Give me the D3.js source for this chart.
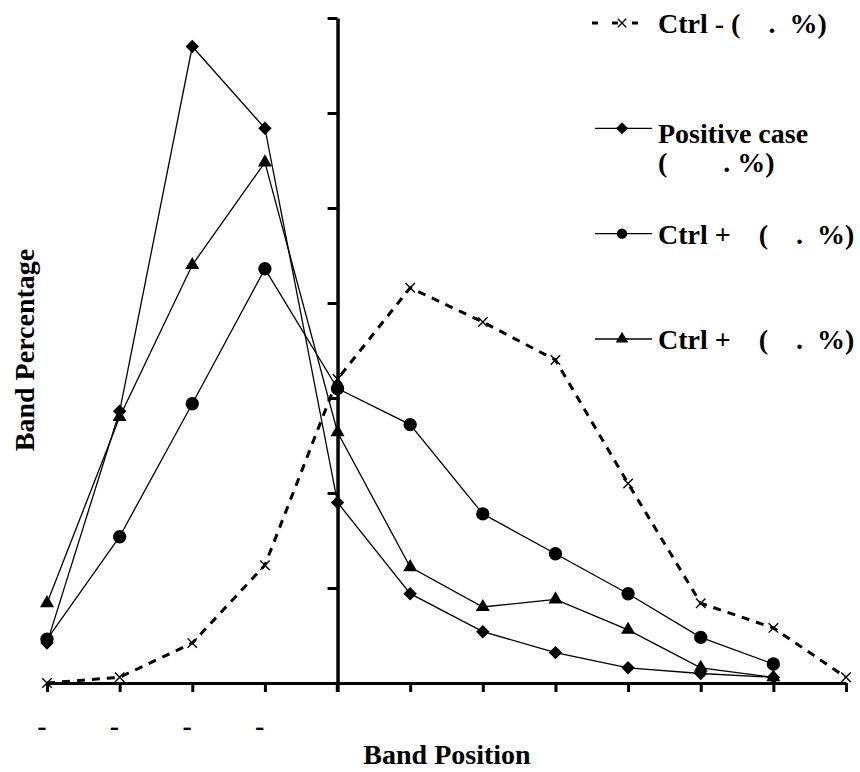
<!DOCTYPE html>
<html>
<head>
<meta charset="utf-8">
<script src="https://cdn.jsdelivr.net/npm/d3@7"></script>
<style>
  body { margin: 0; background: #fff; }
  svg { display: block; }
  svg text { font-family: "Liberation Serif", "Times New Roman", serif; font-weight: bold; }
</style>
</head>
<body>
<svg id="chart" width="860" height="772"></svg>
<script>
// band positions on the x axis
const positions = [-4, -3, -2, -1, 0, 1, 2, 3, 4, 5, 6, 7];

// band percentage of each series
const ctrlNeg  = [0, 0.3, 2.1, 6.2, 16.0, 20.8, 19.0, 17.0, 10.5, 4.2, 2.9, 0.3];
const positive = [2.1, 14.3, 33.5, 29.2, 9.5, 4.7, 2.7, 1.6, 0.8, 0.5, 0.3];
const ctrlPosA = [2.3, 7.7, 14.7, 21.8, 15.5, 13.6, 8.9, 6.8, 4.7, 2.4, 1.0];
const ctrlPosB = [4.2, 14.0, 22.0, 27.4, 13.2, 6.1, 4.0, 4.4, 2.8, 0.8, 0.3];

// legend texts (digits are blank in the original)
const legendLabels = [
  ["Ctrl - (    .  %)"],
  ["Positive case", "(        . %)"],
  ["Ctrl +    (    .  %)"],
  ["Ctrl +    (    .  %)"]
];

const yTicks = [0, 5, 10, 15, 20, 25, 30, 35];

const FONT = "Liberation Serif";
const FSIZE = 28;
const svg = d3.select("#chart");

const x = d3.scaleLinear().domain([-4, 7]).range([47, 846]);
const y = d3.scaleLinear().domain([0, 35]).range([683, 18]);

// x axis
const gx = svg.append("g")
  .attr("transform", `translate(0, ${y(0)})`)
  .call(d3.axisBottom(x).tickValues(positions).tickSize(9).tickSizeOuter(0)
    .tickFormat(d => d < 0 ? "-" : ""));
gx.attr("font-family", FONT);
gx.select(".domain").attr("stroke", "#000").attr("stroke-width", 3);
gx.selectAll(".tick line").attr("stroke", "#000").attr("stroke-width", 3);
gx.selectAll(".tick text")
  .attr("y", 52).attr("dy", 0).attr("x", -1)
  .attr("text-anchor", "end")
  .attr("fill", "#000")
  .attr("font-family", FONT)
  .attr("font-weight", "bold")
  .attr("font-size", FSIZE);

// y axis, crossing at band position 0
const gy = svg.append("g")
  .attr("transform", `translate(${x(0)}, 0)`)
  .call(d3.axisLeft(y).tickValues(yTicks).tickSize(10).tickSizeOuter(0).tickFormat(""));
gy.select(".domain").attr("stroke", "#000").attr("stroke-width", 3.5);
gy.selectAll(".tick line").attr("stroke", "#000").attr("stroke-width", 3);
gy.append("line").attr("x1", 0).attr("x2", 0).attr("y1", y(0)).attr("y2", y(0) + 9)
  .attr("stroke", "#000").attr("stroke-width", 3.5);

// series
const series = [
  {values: ctrlNeg, symbol: d3.symbolX, size: 60, dashed: true},
  {values: positive, symbol: d3.symbolSquare, size: 90, rotate: 45},
  {values: ctrlPosA, symbol: d3.symbolCircle, size: 140},
  {values: ctrlPosB, symbol: d3.symbolTriangle, size: 85}
];

const line = d3.line()
  .x((d, i) => x(positions[i]))
  .y(d => y(d));

function drawMarker(sel, s) {
  const p = sel.append("path")
    .attr("d", d3.symbol().type(s.symbol).size(s.size)());
  if (s.symbol === d3.symbolX) {
    p.attr("fill", "none").attr("stroke", "#000").attr("stroke-width", 1.4);
  } else {
    p.attr("fill", "#000");
  }
  if (s.rotate) p.attr("transform", `rotate(${s.rotate})`);
}

series.forEach(s => {
  svg.append("path")
    .datum(s.values)
    .attr("d", line)
    .attr("fill", "none")
    .attr("stroke", "#000")
    .attr("stroke-width", s.dashed ? 3 : 1.3)
    .attr("stroke-dasharray", s.dashed ? "8,7" : null);

  svg.append("g").selectAll("g")
    .data(s.values)
    .join("g")
    .attr("transform", (d, i) => `translate(${x(positions[i])}, ${y(d)})`)
    .each(function() { drawMarker(d3.select(this), s); });
});

// legend
const legendY = d3.scaleLinear().domain([0, 3]).range([23, 339]);
series.forEach((s, i) => {
  const ly = legendY(i);
  const g = svg.append("g").attr("transform", `translate(0, ${ly})`);
  g.append("line")
    .attr("x1", s.dashed ? 592 : 595).attr("x2", 652)
    .attr("y1", 0).attr("y2", 0)
    .attr("stroke", "#000")
    .attr("stroke-width", s.dashed ? 3 : 1.3)
    .attr("stroke-dasharray", s.dashed ? "6,14" : null);
  const m = g.append("g").attr("transform", "translate(622, 0)");
  drawMarker(m, Object.assign({}, s, {size: s.size * (s.symbol === d3.symbolCircle ? 0.6 : 0.8)}));

  const lines = legendLabels[i];
  const t = g.append("text")
    .attr("xml:space", "preserve")
    .style("white-space", "pre")
    .attr("font-family", FONT)
    .attr("font-weight", "bold")
    .attr("font-size", FSIZE)
    .attr("fill", "#000");
  lines.forEach((txt, k) => {
    t.append("tspan")
      .attr("x", 658)
      .attr("y", (lines.length > 1 ? 15 : 10) + k * 29)
      .text(txt);
  });
});

// axis titles
svg.append("text")
  .attr("x", 447).attr("y", 764)
  .attr("text-anchor", "middle")
  .attr("font-family", FONT)
  .attr("font-weight", "bold")
  .attr("font-size", FSIZE)
  .text("Band Position");

svg.append("text")
  .attr("transform", "translate(34, 350) rotate(-90)")
  .attr("text-anchor", "middle")
  .attr("font-family", FONT)
  .attr("font-weight", "bold")
  .attr("font-size", FSIZE)
  .text("Band Percentage");
</script>
</body>
</html>
